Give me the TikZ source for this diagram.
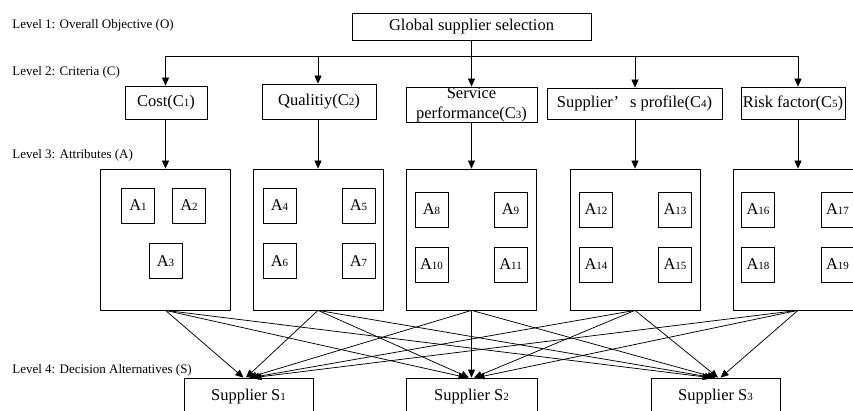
\documentclass[tikz,border=0pt]{standalone}
\usepackage{fontspec}
\setmainfont{Liberation Serif}
\usetikzlibrary{arrows.meta,calc}
\newcommand{\subd}[1]{{\fontsize{11}{11}\selectfont #1}}
\begin{document}
\begin{tikzpicture}[x=1pt,y=-1pt, line width=0.75pt,
  box/.style={draw, inner sep=0pt, align=center, font=\fontsize{16.5}{20}\selectfont},
  lvl/.style={anchor=west, inner sep=0pt, font=\fontsize{13}{15}\selectfont},
  attr/.style={draw, inner sep=0pt, minimum width=33pt, minimum height=35pt, font=\fontsize{16.5}{20}\selectfont},
  grp/.style={draw, minimum width=130pt, minimum height=141pt, inner sep=0pt},
  arr/.style={-{Triangle[length=8pt,width=7pt]}}]
\useasboundingbox (0,0) rectangle (853,411);
\clip (0,0) rectangle (853,411);
% level labels
\node[lvl] (l1) at (12,25) {Level 1: Overall Objective (O)};
\node[lvl] (l2) at (12,72) {Level 2: Criteria (C)};
\node[lvl] (l3) at (12,155) {Level 3: Attributes (A)};
\node[lvl] (l4) at (12,370) {Level 4: Decision Alternatives (S)};
% goal
\node[box, minimum width=239pt, minimum height=27pt] (g) at (471.5,26.5) {Global supplier selection};
% criteria
\node[box, minimum width=82pt, minimum height=33pt] (c1) at (166,102.5) {Cost(C\subd{1})};
\node[box, minimum width=114pt, minimum height=35pt] (c2) at (319,101.5) {Qualitiy(C\subd{2})};
\node[box, minimum width=131pt, minimum height=35pt] (c3) at (471.5,104.5) {Service\\performance(C\subd{3})};
\node[box, minimum width=175pt, minimum height=31pt] (c4) at (634.5,103.5) {Supplier’\hspace{11pt}s profile(C\subd{4})};
\node[box, minimum width=104pt, minimum height=32pt] (c5) at (793,103) {Risk factor(C\subd{5})};
% attribute groups
\node[grp] (a1) at (165.5,239.5) {};
\node[grp] (a2) at (318,239.5) {};
\node[grp] (a3) at (471.5,239.5) {};
\node[grp] (a4) at (635,239.5) {};
\node[grp] (a5) at (798,239.5) {};
% attributes
\node[attr] (x1) at (138,205.5) {A\subd{1}};
\node[attr] (x2) at (189,205.5) {A\subd{2}};
\node[attr] (x3) at (165.5,261) {A\subd{3}};
\node[attr] (x4) at (279.5,205.5) {A\subd{4}};
\node[attr] (x5) at (358.5,205.5) {A\subd{5}};
\node[attr] (x6) at (279.5,261) {A\subd{6}};
\node[attr] (x7) at (358.5,261) {A\subd{7}};
\node[attr] (x8) at (431.5,209.5) {A\subd{8}};
\node[attr] (x9) at (510.5,209.5) {A\subd{9}};
\node[attr] (x10) at (431.5,264.5) {A\subd{10}};
\node[attr] (x11) at (510.5,264.5) {A\subd{11}};
\node[attr] (x12) at (596,209.5) {A\subd{12}};
\node[attr] (x13) at (675,209.5) {A\subd{13}};
\node[attr] (x14) at (596,264.5) {A\subd{14}};
\node[attr] (x15) at (675,264.5) {A\subd{15}};
\node[attr] (x16) at (758,209.5) {A\subd{16}};
\node[attr] (x17) at (837.5,209.5) {A\subd{17}};
\node[attr] (x18) at (758,264.5) {A\subd{18}};
\node[attr] (x19) at (837.5,264.5) {A\subd{19}};
% suppliers
\node[box, minimum width=129pt, minimum height=38pt] (s1) at (248.5,397) {Supplier S\subd{1}};
\node[box, minimum width=131pt, minimum height=38pt] (s2) at (471.5,397) {Supplier S\subd{2}};
\node[box, minimum width=129pt, minimum height=38pt] (s3) at (715.5,397) {Supplier S\subd{3}};
% connectors level 1 -> 2
\coordinate (bus) at (0,56);
\draw (a1.north |- bus) -- (a5.north |- bus);
\draw[arr] (g.south) -- (c3.north);
\foreach \i in {1,2,4,5} {
  \draw[arr] (a\i.north |- bus) -- (c\i.north -| a\i.north);
}
% level 2 -> 3
\foreach \i in {1,...,5} {
  \draw[arr] (c\i.south -| a\i.north) -- (a\i.north);
}
% level 3 -> 4
\foreach \i in {1,...,5} {
  \foreach \j in {1,2,3} {
    \draw[arr] (a\i.south) -- ($(s\j.north)+({(\i-3)*2.5},0)$);
  }
}
\end{tikzpicture}
\end{document}
